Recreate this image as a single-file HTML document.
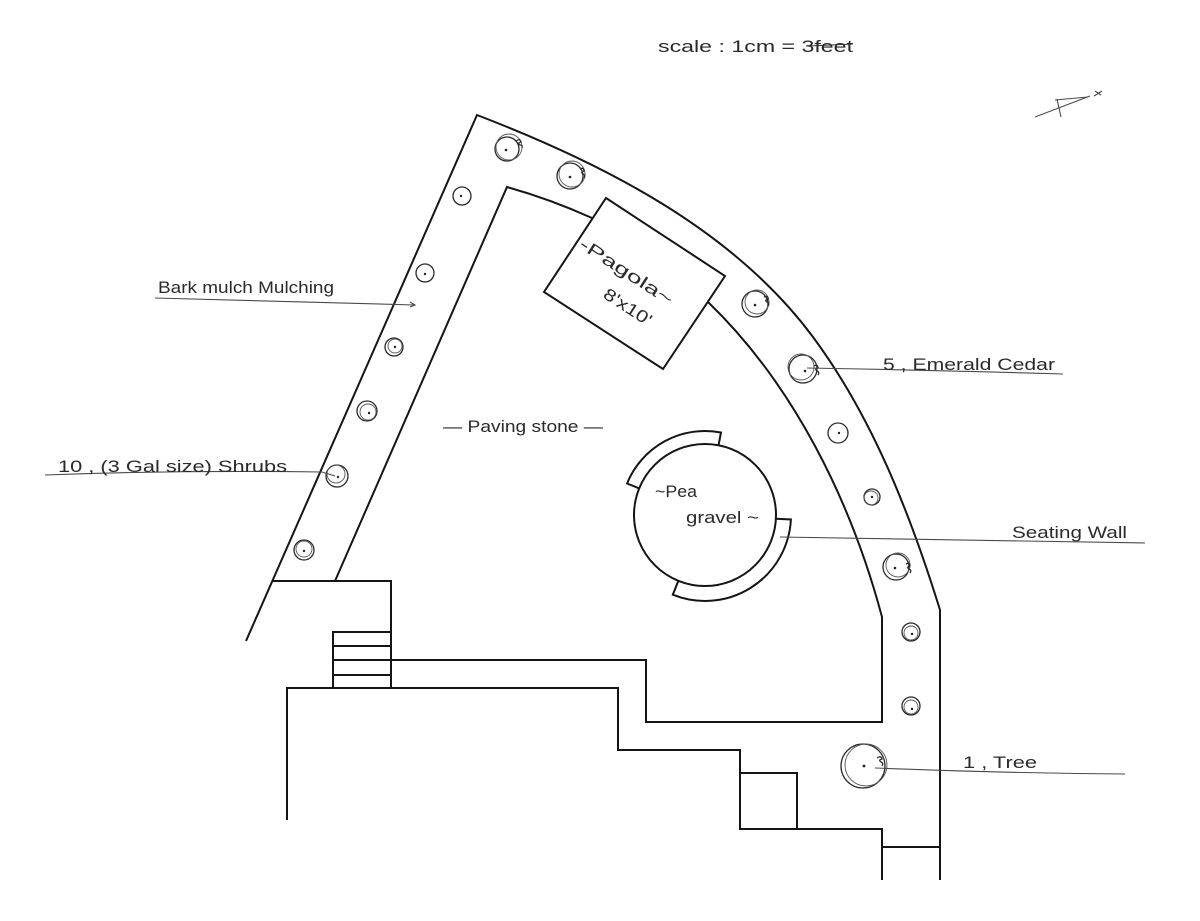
<!DOCTYPE html>
<html>
<head>
<meta charset="utf-8">
<style>
  html, body { margin: 0; padding: 0; background: #ffffff; }
  body { width: 1200px; height: 921px; overflow: hidden; }
  svg { display: block; }
  .w { fill: none; stroke: #151515; stroke-width: 2; stroke-linejoin: miter; stroke-linecap: butt; }
  .s { fill: none; stroke: #2a2a2a; stroke-width: 1.3; }
  .s2 { fill: none; stroke: #555; stroke-width: 0.9; }
  .d { fill: #222; }
  .ld { fill: none; stroke: #4a4a4a; stroke-width: 1.1; }
  text { font-family: "Liberation Sans", sans-serif; fill: #2a2a2a; font-size: 17px; }
</style>
</head>
<body>
<svg width="1200" height="921" viewBox="0 0 1200 921" xmlns="http://www.w3.org/2000/svg">

  <!-- scale note -->
  <text x="658" y="52" textLength="195" lengthAdjust="spacingAndGlyphs" font-size="18">scale : 1cm = 3feet</text>
  <line x1="808" y1="46" x2="853" y2="44" stroke="#333" stroke-width="1"/>

  <!-- north arrow -->
  <path d="M1035,117 L1090,96" class="ld" stroke-width="1.3"/>
  <path d="M1055,100 L1088,97" class="ld" stroke-width="1.3"/>
  <path d="M1057,99 L1061,117" class="ld" stroke-width="1.3"/>
  <path d="M1095,91 L1101,95 M1094,96 L1102,91" class="ld" stroke-width="1.1"/>

  <!-- outer boundary -->
  <path class="w" d="M246,641 L477,115
     C602,163 733,229 813,337
     C872.5,417.4 910.4,514.5 940,610
     L940,880"/>

  <!-- inner boundary left part -->
  <path class="w" d="M335,581 L507,187 Q550,199 592,218"/>

  <!-- inner boundary right part -->
  <path class="w" d="M708,302
     C794,385 851,501 882,617
     L882,722 L646,722 L646,660 L391,660"/>

  <!-- pergola -->
  <path class="w" d="M606,198 L725,276 L663,369 L544,292 Z"/>

  <!-- bottom-left structures -->
  <path class="w" d="M273,581 L391,581 L391,688"/>
  <path class="w" d="M333,688 L333,632 L391,632"/>
  <path class="w" d="M333,646 L391,646 M333,660 L391,660 M333,675 L391,675"/>
  <path class="w" d="M287,820 L287,688 L618,688 L618,750 L740,750 L740,829 L882,829 L882,880"/>
  <path class="w" d="M740,773 L797,773 L797,829"/>
  <path class="w" d="M882,847 L940,847"/>

  <!-- pea gravel circle -->
  <circle class="w" cx="705" cy="515" r="71"/>
  <!-- seating walls -->
  <path class="w" d="M718.5,445.3 L721,432.5 A84,84 0 0 0 627.1,483.5 L639.2,488.4"/>
  <path class="w" d="M775.9,518.7 L790.9,519.5 A86,86 0 0 1 672.8,594.7 L678.4,580.8"/>

  <!-- shrubs left strip -->
  <g>
    <circle class="s" cx="507" cy="149" r="12"/><circle class="s2" cx="509" cy="147" r="13"/><circle class="d" cx="506" cy="150" r="1.3"/>
    <path class="s" d="M516,141 q4,-3 5,1 q-4,1 -1,3 q3,0 2,3"/>
    <circle class="s" cx="462" cy="196" r="9"/><circle class="d" cx="461" cy="196" r="1.2"/>
    <circle class="s" cx="425" cy="273" r="9"/><circle class="d" cx="425" cy="274" r="1.2"/>
    <circle class="s" cx="394" cy="347" r="9"/><circle class="s2" cx="395" cy="346" r="7"/><circle class="d" cx="395" cy="347" r="1.2"/>
    <circle class="s" cx="367" cy="411" r="10"/><circle class="s2" cx="368" cy="412" r="8"/><circle class="d" cx="369" cy="413" r="1.2"/>
    <circle class="s" cx="337" cy="476" r="11"/><circle class="s2" cx="336" cy="474" r="9"/><circle class="d" cx="338" cy="477" r="1.2"/>
    <circle class="s" cx="304" cy="550" r="10"/><circle class="s2" cx="304" cy="549" r="8"/><circle class="d" cx="304" cy="551" r="1.2"/>
  </g>
  <!-- shrubs top -->
  <circle class="s" cx="570" cy="176" r="13"/><circle class="s2" cx="572" cy="174" r="13"/><circle class="d" cx="570" cy="177" r="1.3"/>
  <path class="s" d="M580,169 q4,-2 4,2 q-4,1 -1,3 q3,1 1,4"/>

  <!-- shrubs right strip -->
  <circle class="s" cx="755" cy="304" r="13"/><circle class="s2" cx="757" cy="302" r="12"/><circle class="d" cx="755" cy="305" r="1.3"/>
  <path class="s" d="M764,297 q4,-2 4,2 q-4,1 -1,3 q3,1 1,4"/>
  <circle class="s" cx="803" cy="369" r="14"/><circle class="s2" cx="801" cy="367" r="13"/><circle class="d" cx="805" cy="371" r="1.3"/>
  <path class="s" d="M814,366 q4,-2 4,2 q-4,1 -1,3 q3,1 1,4"/>
  <circle class="s" cx="838" cy="433" r="10"/><circle class="d" cx="839" cy="433" r="1.2"/>
  <circle class="s" cx="872" cy="497" r="8"/><circle class="s2" cx="871" cy="498" r="7"/><circle class="d" cx="872" cy="497" r="1.2"/>
  <circle class="s" cx="896" cy="567" r="13"/><circle class="s2" cx="898" cy="565" r="12"/><circle class="d" cx="895" cy="568" r="1.3"/>
  <path class="s" d="M906,564 q4,-2 4,2 q-4,1 -1,3 q3,1 1,4"/>
  <circle class="s" cx="911" cy="632" r="9"/><circle class="s2" cx="911" cy="633" r="7"/><circle class="d" cx="912" cy="634" r="1.2"/>
  <circle class="s" cx="911" cy="706" r="9"/><circle class="s2" cx="911" cy="707" r="7"/><circle class="d" cx="912" cy="709" r="1.2"/>

  <!-- tree -->
  <circle class="s" cx="863" cy="766" r="22"/><circle class="s2" cx="866" cy="765" r="21"/><circle class="d" cx="864" cy="766" r="1.4"/>
  <path class="s" d="M877,758 q4,-3 5,1 q-4,1 -1,3 q3,1 1,4"/>

  <!-- leader lines -->
  <path class="ld" d="M155,298 L415,305 M410,302 L415,305 L410,307"/>
  <path class="ld" d="M45,475 Q180,470 322,472 L335,476"/>
  <path class="ld" d="M807,368 Q930,370 1063,374"/>
  <path class="ld" d="M780,537 Q960,540 1145,543"/>
  <path class="ld" d="M875,768 Q1000,773 1125,774"/>

  <!-- labels -->
  <text x="158" y="293" textLength="176" lengthAdjust="spacingAndGlyphs">Bark mulch  Mulching</text>
  <text x="58" y="472" textLength="229" lengthAdjust="spacingAndGlyphs">10 ,  (3 Gal size) Shrubs</text>
  <text x="883" y="370" textLength="172" lengthAdjust="spacingAndGlyphs">5 ,  Emerald  Cedar</text>
  <text x="1012" y="538" textLength="115" lengthAdjust="spacingAndGlyphs">Seating  Wall</text>
  <text x="963" y="768" textLength="74" lengthAdjust="spacingAndGlyphs">1 ,  Tree</text>
  <text x="443" y="432" textLength="160" lengthAdjust="spacingAndGlyphs">— Paving stone —</text>
  <text x="655" y="497" font-size="16" textLength="42" lengthAdjust="spacingAndGlyphs">~Pea</text>
  <text x="686" y="523" font-size="16" textLength="73" lengthAdjust="spacingAndGlyphs">gravel ~</text>

  <!-- pergola labels -->
  <text x="0" y="0" font-size="20" transform="translate(578,247) rotate(33)" textLength="108" lengthAdjust="spacingAndGlyphs">-Pagola~</text>
  <text x="0" y="0" font-size="17" transform="translate(602,297) rotate(33)" textLength="54" lengthAdjust="spacingAndGlyphs">8'x10'</text>
</svg>
</body>
</html>
